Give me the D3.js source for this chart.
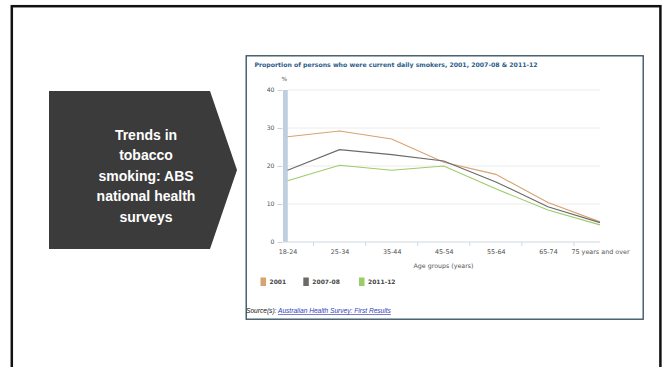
<!DOCTYPE html>
<html>
<head>
<meta charset="utf-8">
<script src="https://cdn.jsdelivr.net/npm/d3@7"></script>
<style>
  html, body { margin: 0; padding: 0; background: #ffffff; }
  svg { display: block; }
</style>
</head>
<body>
<svg id="slide" width="667" height="367"></svg>
<script>
// Age groups and daily smoker rates (%) by survey
const ageGroups = ["18-24", "25-34", "35-44", "45-54", "55-64", "65-74", "75 years and over"];
const values2001 = [27.7, 29.2, 27.1, 21.0, 17.8, 10.4, 5.3];
const values2007 = [18.9, 24.3, 23.0, 21.3, 15.8, 9.3, 5.1];
const values2011 = [16.1, 20.2, 18.9, 20.0, 14.0, 8.4, 4.5];
const seriesNames = ["2001", "2007-08", "2011-12"];
const yTickValues = [0, 10, 20, 30, 40];
const headingLines = ["Trends in", "tobacco", "smoking: ABS", "national health", "surveys"];

const seriesColors = ["#d8a271", "#6a6a6a", "#9ccc67"];
const seriesValues = [values2001, values2007, values2011];

const svg = d3.select("#slide");

// Slide frame
svg.append("rect")
  .attr("x", 11.8).attr("y", 6.2)
  .attr("width", 648.6).attr("height", 420)
  .attr("fill", "none").attr("stroke", "#111").attr("stroke-width", 2.5);

// Heading arrow panel
const arrow = d3.path();
arrow.moveTo(49, 91);
arrow.lineTo(210, 91);
arrow.lineTo(237, 170);
arrow.lineTo(210, 249);
arrow.lineTo(49, 249);
arrow.closePath();
svg.append("path").attr("d", arrow.toString()).attr("fill", "#3b3b3b");

svg.append("g")
  .selectAll("text")
  .data(headingLines)
  .join("text")
  .attr("x", 146)
  .attr("y", (d, i) => 140 + i * 20.4)
  .attr("text-anchor", "middle")
  .attr("fill", "#ffffff")
  .attr("font-family", "'Liberation Sans', Arial, sans-serif")
  .attr("font-weight", "bold")
  .attr("font-size", 14)
  .text(d => d);

// Chart panel
svg.append("rect")
  .attr("x", 246.2).attr("y", 55.8)
  .attr("width", 397).attr("height", 263.4)
  .attr("fill", "#ffffff").attr("stroke", "#2f4a5c").attr("stroke-width", 1.3);

svg.append("text")
  .attr("x", 254.5).attr("y", 67)
  .attr("fill", "#2c5d8c")
  .attr("font-family", "'DejaVu Sans', Verdana, sans-serif")
  .attr("font-weight", "bold")
  .attr("font-size", 6.2)
  .text("Proportion of persons who were current daily smokers, 2001, 2007-08 & 2011-12");

const x = d3.scalePoint().domain(ageGroups).range([287.5, 600]);
const y = d3.scaleLinear().domain([0, 40]).range([242, 90]);

const plot = svg.append("g");

// Horizontal gridlines
plot.selectAll("line.grid")
  .data(yTickValues.filter(v => v > 0))
  .join("line")
  .attr("class", "grid")
  .attr("x1", 288).attr("x2", 600)
  .attr("y1", d => y(d)).attr("y2", d => y(d))
  .attr("stroke", "#ececec").attr("stroke-width", 1);

// Y axis
const yAxis = d3.axisLeft(y).tickValues(yTickValues).tickSize(5).tickPadding(3);
const yG = plot.append("g").attr("transform", "translate(282.5,0)").call(yAxis);
yG.select(".domain").remove();
yG.selectAll(".tick line").attr("stroke", "#d0d0d0");
yG.selectAll(".tick text")
  .attr("fill", "#555")
  .attr("font-family", "'DejaVu Sans', Verdana, sans-serif")
  .attr("font-size", 6.2);

// Y axis band
plot.append("rect")
  .attr("x", 283).attr("y", y(40))
  .attr("width", 4.8).attr("height", y(0) - y(40))
  .attr("fill", "#bfcfe0");

svg.append("text")
  .attr("x", 281.5).attr("y", 81)
  .attr("fill", "#555")
  .attr("font-family", "'DejaVu Sans', Verdana, sans-serif")
  .attr("font-size", 5.8)
  .text("%");

// X axis
const xAxis = d3.axisBottom(x).tickSize(0).tickPadding(7);
const xG = plot.append("g").attr("transform", `translate(0,${y(0)})`).call(xAxis);
xG.select(".domain").remove();
xG.selectAll(".tick text")
  .attr("fill", "#555")
  .attr("font-family", "'DejaVu Sans', Verdana, sans-serif")
  .attr("font-size", 6.4);

plot.append("line")
  .attr("x1", 283).attr("x2", 600)
  .attr("y1", y(0)).attr("y2", y(0))
  .attr("stroke", "#cfd8e2").attr("stroke-width", 1);

// Dividers between age groups
const mids = ageGroups.slice(1).map((g, i) => (x(ageGroups[i]) + x(g)) / 2);
plot.selectAll("line.divider")
  .data(mids)
  .join("line")
  .attr("class", "divider")
  .attr("x1", d => d).attr("x2", d => d)
  .attr("y1", y(0)).attr("y2", y(0) + 4)
  .attr("stroke", "#cfd8e2");

svg.append("text")
  .attr("x", 443.5).attr("y", 267.5)
  .attr("text-anchor", "middle")
  .attr("fill", "#555")
  .attr("font-family", "'DejaVu Sans', Verdana, sans-serif")
  .attr("font-size", 6.3)
  .text("Age groups (years)");

// Series lines
const line = d3.line().x((d, i) => x(ageGroups[i])).y(d => y(d));
plot.selectAll("path.series")
  .data(seriesValues)
  .join("path")
  .attr("class", "series")
  .attr("d", d => line(d))
  .attr("fill", "none")
  .attr("stroke", (d, i) => seriesColors[i])
  .attr("stroke-width", 1.1);

// Legend
const legendX = [260.5, 303.3, 359];
const legend = svg.append("g")
  .selectAll("g")
  .data(seriesNames)
  .join("g")
  .attr("transform", (d, i) => `translate(${legendX[i]},277.5)`);
legend.append("rect")
  .attr("width", 5.5).attr("height", 8.5)
  .attr("fill", (d, i) => seriesColors[i]);
legend.append("text")
  .attr("x", 9).attr("y", 6.6)
  .attr("fill", "#444")
  .attr("font-family", "'DejaVu Sans', Verdana, sans-serif")
  .attr("font-weight", "bold")
  .attr("font-size", 6)
  .text(d => d);

// Source note
const source = svg.append("text")
  .attr("x", 246).attr("y", 313)
  .attr("font-family", "'Liberation Sans', Arial, sans-serif")
  .attr("font-style", "italic")
  .attr("font-size", 6.6);
source.append("tspan").attr("fill", "#111").text("Source(s): ");
source.append("tspan")
  .attr("fill", "#3340b8")
  .attr("text-decoration", "underline")
  .text("Australian Health Survey: First Results");
</script>
</body>
</html>
